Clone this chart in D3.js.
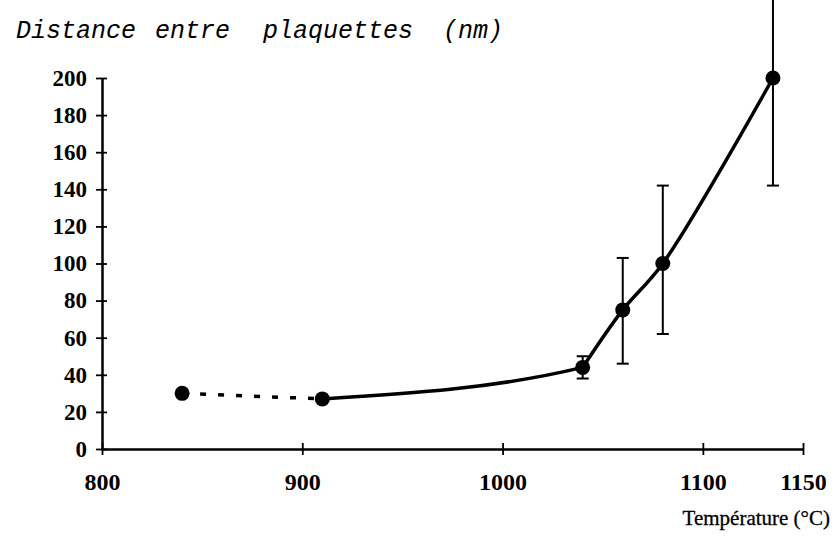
<!DOCTYPE html>
<html>
<head>
<meta charset="utf-8">
<script src="https://cdn.jsdelivr.net/npm/d3@7/dist/d3.min.js"></script>
<style>
  html, body { margin: 0; padding: 0; background: #fff; }
  svg { display: block; }
  .tick text { font-family: "Liberation Serif", "Times New Roman", serif; font-weight: bold; }
</style>
</head>
<body>
<svg id="chart" width="836" height="545"></svg>
<script>
// Spacing between platelets versus annealing temperature
const temperatures = [840, 910, 1040, 1060, 1080, 1135];
const distances    = [30, 27, 44, 75, 100, 200];
const errLow       = [null, null, 38, 46, 62, 142];
const errHigh      = [null, null, 50, 103, 142, 260];

const xTicks = [800, 900, 1000, 1100, 1150];
const yTicks = [0, 20, 40, 60, 80, 100, 120, 140, 160, 180, 200];

const titleWords = ["Distance", "entre", "plaquettes", "(nm)"];
const titleWordX = [16, 155, 263, 443];
const xTitleText = "Température (°C)";

const svg = d3.select("#chart");

const x = d3.scaleLinear().domain([800, 1150]).range([102, 803]);
const y = d3.scaleLinear().domain([0, 200]).range([449, 78]);

const ink = "#000";
const serif = "Liberation Serif";

// Y axis: ticks cross the axis line
const yAxis = svg.append("g")
  .attr("transform", `translate(${x(800)},0)`)
  .call(d3.axisLeft(y).tickValues(yTicks).tickSize(6).tickPadding(10).tickSizeOuter(0));
yAxis.attr("font-family", serif).attr("font-size", 23);
yAxis.select(".domain").attr("stroke", ink).attr("stroke-width", 2.5);
yAxis.selectAll(".tick line").attr("x1", 5).attr("x2", -6).attr("stroke", ink).attr("stroke-width", 1.8);
yAxis.selectAll(".tick text").attr("x", -15).attr("fill", ink);

// X axis
const xAxis = svg.append("g")
  .attr("transform", `translate(0,${y(0)})`)
  .call(d3.axisBottom(x).tickValues(xTicks).tickFormat(d3.format("d")).tickSize(6).tickPadding(18).tickSizeOuter(0));
xAxis.attr("font-family", serif).attr("font-size", 24);
xAxis.select(".domain").attr("stroke", ink).attr("stroke-width", 2.5);
xAxis.selectAll(".tick line").attr("y1", -6).attr("y2", 6).attr("stroke", ink).attr("stroke-width", 1.8);
xAxis.selectAll(".tick text").attr("fill", ink);

// Axis titles
svg.append("text")
  .attr("y", 38)
  .attr("fill", ink)
  .attr("font-family", "Liberation Mono")
  .attr("font-style", "italic")
  .attr("font-size", 25)
  .selectAll("tspan")
  .data(titleWords)
  .join("tspan")
  .attr("x", (d, i) => titleWordX[i])
  .text(d => d);

svg.append("text")
  .attr("x", 830).attr("y", 525)
  .attr("text-anchor", "end")
  .attr("fill", ink)
  .attr("stroke", ink).attr("stroke-width", 0.3)
  .attr("font-family", serif)
  .attr("font-size", 21)
  .text(xTitleText);

const pts = temperatures.map((t, i) => ({ t, d: distances[i], lo: errLow[i], hi: errHigh[i] }));

const line = d3.line().x(p => x(p.t)).y(p => y(p.d));

// Dashed extrapolation between the two low-temperature points
svg.append("path")
  .datum(pts.slice(0, 2))
  .attr("d", line)
  .attr("fill", "none")
  .attr("stroke", ink)
  .attr("stroke-width", 3.5)
  .attr("stroke-dasharray", "6,12");

// Slow-growth branch (910 → 1040 °C): monotone curve, kept left of the 1040 °C point
svg.append("clipPath").attr("id", "lowBranch")
  .append("rect")
  .attr("x", 0).attr("y", 0)
  .attr("width", x(temperatures[2])).attr("height", 545);
svg.append("path")
  .datum(pts.slice(1, 4))
  .attr("clip-path", "url(#lowBranch)")
  .attr("d", d3.line().x(p => x(p.t)).y(p => y(p.d)).curve(d3.curveMonotoneX))
  .attr("fill", "none")
  .attr("stroke", ink)
  .attr("stroke-width", 3.5);

// Fast-growth branch (1040 → 1135 °C)
svg.append("path")
  .datum(pts.slice(2))
  .attr("d", d3.line().x(p => x(p.t)).y(p => y(p.d)).curve(d3.curveCatmullRom.alpha(0.5)))
  .attr("fill", "none")
  .attr("stroke", ink)
  .attr("stroke-width", 3.5);

// Error bars
const bars = svg.append("g").selectAll("g")
  .data(pts.filter(p => p.lo !== null))
  .join("g");
bars.append("line")
  .attr("x1", p => x(p.t)).attr("x2", p => x(p.t))
  .attr("y1", p => y(p.lo)).attr("y2", p => y(p.hi))
  .attr("stroke", ink).attr("stroke-width", 2);
bars.append("line")
  .attr("x1", p => x(p.t) - 6).attr("x2", p => x(p.t) + 6)
  .attr("y1", p => y(p.lo)).attr("y2", p => y(p.lo))
  .attr("stroke", ink).attr("stroke-width", 2);
bars.filter(p => p.hi <= 200).append("line")
  .attr("x1", p => x(p.t) - 6).attr("x2", p => x(p.t) + 6)
  .attr("y1", p => y(p.hi)).attr("y2", p => y(p.hi))
  .attr("stroke", ink).attr("stroke-width", 2);

// Data markers
svg.append("g").selectAll("circle")
  .data(pts)
  .join("circle")
  .attr("cx", p => x(p.t))
  .attr("cy", p => y(p.d))
  .attr("r", 7.5)
  .attr("fill", ink);
</script>
</body>
</html>
